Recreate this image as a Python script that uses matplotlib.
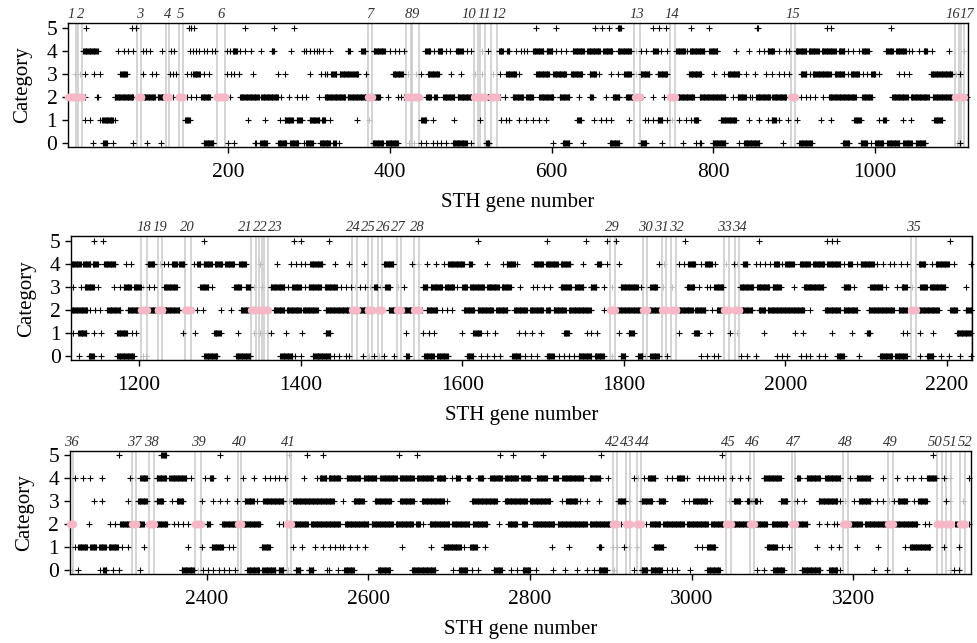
import numpy as np
import matplotlib
matplotlib.use("Agg")
import matplotlib.pyplot as plt
import matplotlib.transforms as mtransforms

plt.rcParams['font.family'] = ['Liberation Serif', 'DejaVu Serif']

# ---------------- data: gene numbers per category ("a-b" = run of consecutive genes) ----------------
CAT5 = ("25 82 86 152 155 158 221 257 282 581 606 654 662 671 682-686 725 733 741 772 795 854-855 941 945 1019 "
        "1145 1156 1280 1392 1401 1435 1619 1705 1753 1779 1790 1876 1967 2051 2057 2064 2204 "
        "2291 2344-2350 2416 2502 2524 2544 2638 2660 2763 2779 2816 2888 3037 3298")

CAT4 = ("21-39 64 71 77 83 95 99 104 119 130 133 153 157 161 164 170 174 180 184 199 203 206-211 215 221 229 241 254-257 "
        "278 294 297 301 307 310 313 318 326 348-351 365-370 380-394 400 406 412 418 444-450 455 460-465 470 474 482-490 "
        "495 501 514 521 535-540 545-548 556 562 566 570 577-590 594-601 606 612 618 626-640 644-660 664-675 682-698 704 "
        "710 717 725-731 735 743 754-765 768 771-789 795-805 828 844 857 862 867-875 881 890 894 902-915 918-930 934-951 "
        "955-962 967 972 980 984-992 1013-1022 1026-1038 1042 1046 1054 1060-1064 1070 1091 1110 "
        "1117-1128 1131-1140 1143-1149 1157-1171 1184 1190 1210-1219 1226 1231 1236 1241-1247 1250-1256 1268 1272-1276 "
        "1280-1290 1294-1303 1307-1318 1324-1332 1350 1371 1388 1394 1400 1406 1412-1427 1443 1460 1478 1503-1515 1538 "
        "1545 1557 1567 1577 1583-1602 1608-1612 1631 1650 1655-1665 1668 1689-1700 1704-1718 1722-1734 1750 1767-1772 "
        "1779 1794 1843 1850 1868 1874 1880-1888 1895 1901-1909 1913 1927 1936 1940 1948-1953 1963 1969 1975 1981 "
        "1986-1992 1996 2000-2010 2018-2030 2034-2048 2052-2068 2072 2078-2082 2088 2093-2109 2113 2121 2129 2134 2143 "
        "2150 2165-2173 2181 2186-2202 2208 2229 "
        "2237 2247 2256 2270 2305 2311 2318-2326 2338-2350 2354-2375 2381 2398 2404-2408 2425 2445 2458 2472 2478 2484 "
        "2490 2497 2520 2536 2540-2548 2551-2565 2573-2590 2594-2610 2615-2635 2639-2656 2660-2680 2685-2695 2703 "
        "2708-2713 2722-2726 2736-2742 2751-2765 2769-2785 2789-2800 2808-2821 2829-2835 2840-2866 2874-2887 2897 2928 "
        "2934 2941 2946-2955 2969 2975 2982-2990 2994 3009 3015 3021 3027 3033 3039 3050 3060 3070 3089-3110 3130-3134 "
        "3142-3159 3165-3184 3196 3204-3221 3237 3254 3266 3274 3283 3291-3303 3312 3320 3343")

CAT3 = ("11 17 23 34 42 67-75 95 106 111 128 132 136 149 154 157-165 171 177 199 204 208 214 231 262 270 301 315 320 322 "
        "328-334 338-353 355-361 371 404-416 423 433 439 447-461 476 488 505 514 528 536 544-556 560 581-597 602-618 "
        "624-638 647-655 659 674 682 690-698 704 710-721 731-743 770-785 801 813 818-832 840 852 865 873 881 887 894 "
        "908-915 919 923-945 950-962 966 970-980 985 990 995-1000 1005 1030 1036 1042 1069-1095 1100 1105 "
        "1118 1128 1133-1144 1149 1169 1176 1181-1190 1194-1202 1205 1212 1219 1231-1247 1276-1286 1291 1318-1326 "
        "1332-1338 1343 1352 1363-1380 1385 1390-1400 1405 1410-1425 1430-1445 1450 1456 1462 1467 1474 1480 1486 "
        "1491-1495 1498 1505-1511 1521 1528 1551-1557 1561-1575 1579-1590 1594 1600-1606 1610-1627 1631-1645 1649-1660 "
        "1672 1688 1693 1701 1709 1722-1735 1739-1750 1759-1766 1775 1785 1796-1817 1821 1827 1833-1841 1849 1860 "
        "1878-1887 1893 1903 1907 1912-1923 1944-1960 1965-1980 1984-1994 2010 2023-2047 2072-2080 2085 2105-2120 2124 "
        "2138 2144-2150 2157 2167-2175 2179-2198 2223 "
        "2260 2270 2303 2315-2326 2338-2346 2357 2363-2371 2394 2408 2416 2425 2437 2447-2458 2462 2470-2495 2502 "
        "2507-2557 2569 2582-2594 2608-2628 2639-2656 2666-2693 2697 2728-2759 2769-2796 2800-2825 2839 2845-2858 2862 "
        "2870 2885 2909-2918 2922 2936-2951 2959-2967 2990 2996 3002-3019 3023 3046 3052-3060 3068-3081 3085 3110-3118 "
        "3126 3130 3139 3157-3180 3184 3189 3201 3207-3221 3229 3237 3244 3250 3255-3266 3275 3280-3291 3314 3320 3336")

CAT2 = ("2-12 15-20 23 38 40 60-83 89-93 95-110 113-122 123-127 132 139-144 149 155 161 167-178 186-197 202 215-238 "
        "241-262 266 276 285 291 297 313 320-345 348-371 373-378 381-388 398 410 414 418 421-436 445-451 455-458 "
        "466-480 484-501 504-509 510 512-518 520-523 525-532 536 542 552-565 569-577 585-602 610-622 634 647-651 667 "
        "676-684 692-700 703-709 712 725 739 746-752 756-776 783-815 824 830-840 845 848 853-870 873-890 896-901 902 "
        "908 914 920 926 935 943-976 984-996 1021-1040 1044-1066 1071-1095 1099-1110 1113 "
        "1117-1136 1140 1146 1152 1161-1177 1186-1202 1203-1210 1211-1221 1223-1229 1231-1250 1257-1264 1266 1272 1279 "
        "1301 1314 1326-1338 1339-1345 1348-1352 1354-1360 1367-1380 1383-1400 1403-1421 1431-1460 1464-1470 1472-1482 "
        "1483-1489 1491 1496-1501 1509-1517 1519-1524 1526-1540 1541-1547 1550 1556-1569 1575 1581 1588 1602-1615 "
        "1619-1638 1642-1656 1664-1680 1684-1700 1704-1709 1713-1728 1732-1759 1775 1783-1789 1792-1821 1824-1829 "
        "1831-1843 1847-1852 1858-1865 1868-1885 1888-1901 1909 1915-1923 1924-1930 1937-1943 1944-1959 1967-1975 "
        "1978-2023 2031 2049-2068 2072-2089 2103-2134 2140-2150 2155-2161 2165-2190 2204-2212 2223-2230 "
        "2231-2235 2254 2281 2287 2293-2307 2308-2313 2316-2322 2329-2335 2338-2351 2359 2365 2371 2377 2386-2393 "
        "2400-2404 2419-2437 2439-2443 2445-2466 2489 2495 2499-2504 2507-2525 2529-2565 2571-2600 2604-2630 2634-2655 "
        "2659-2664 2668 2676-2700 2704-2725 2729-2747 2761 2773-2784 2790-2796 2804-2830 2834-2870 2874-2899 2902-2907 "
        "2912 2918 2919-2924 2932-2937 2943 2948 2950-2961 2965-2990 2994-3020 3024-3039 3043-3048 3050-3070 3072-3077 "
        "3079-3093 3099-3118 3124-3128 3132-3143 3157 3167 3176 3180 3187-3193 3194-3210 3214-3242 3243-3249 3250-3279 "
        "3288 3293 3303-3309 3313 3315-3321 3326-3330 3332-3338 3343")

CAT1 = ("23 30 42 45-58 61 147-153 225 246 264 270-280 285-291 301-313 316-320 326 359 375 439-445 453 480 511 538 544 "
        "548 560 568 577 585 593 632-637 653 661 667 674 696 715 719 725 731-737 743 749 758 766 772 776-781 809-828 "
        "844 857 867 872-877 881 892 904 933 945 974-982 1005 1010-1013 1034 1044 1073-1083 "
        "1118 1125-1135 1144 1153 1173-1185 1192 1196 1254 1270 1293-1301 1322 1342 1350 1358 1364 1382 1402 1431-1437 "
        "1530 1551 1559 1565 1600 1614-1623 1631 1641 1670 1678 1686 1697 1726-1732 1754 1760 1767 1794 1806-1812 1868 "
        "1887-1893 1907 1932 1940 1973 2012 2022 2058 2082 2101-2105 2146 2150 2167 2183 2212-2229 "
        "2233 2237 2241-2252 2256-2263 2267-2275 2279-2290 2295 2303 2322 2377 2394 2406-2420 2428 2433 2468-2478 2507 "
        "2518 2534 2544 2552 2559 2565 2569 2577 2586 2596 2641 2678 2693-2714 2718 2726-2734 2744 2827 2848 2885-2888 "
        "2903 2907 2916 2922 2932 2953-2965 3007 3013 3019-3029 3093-3105 3112 3120 3155 3172 3182 3205 3231 3264 "
        "3270-3295 3312 3330")

CAT0 = ("33 46-50 58 83 100 117 170-182 200 208 233 235 240-248 262-272 277-287 294 297-305 314-326 330-333 337 "
        "379-392 396-410 424 430 439 445 453 459 464 469 478-495 501 519-523 602 614-622 639 672-684 709-717 737 762 "
        "779 783-785 799-815 832 838-857 886 906-922 960-968 982-990 995 1000-1010 1015-1030 1035-1045 1050-1062 1101 "
        "1105 "
        "1126 1138-1144 1153 1173-1194 1205 1209 1281-1297 1320-1338 1375-1390 1393 1400 1415-1437 1441 1447 1456 1460 "
        "1477 1485 1491 1497 1503 1516 1530-1534 1553-1565 1569-1582 1606-1614 1623 1631 1639 1647 1662-1672 1678 1685 "
        "1693 1705-1713 1720 1726 1732 1738 1744-1760 1764-1775 1786 1796-1802 1817-1823 1826 1833-1843 1853 1895 1903 "
        "1911 1917 1945 1953 1963 1990 1996 2002 2019 2025 2031 2041 2049 2064-2072 2091 2117-2132 2136-2150 2167 "
        "2175-2183 2192 2202 2216 2229 "
        "2233 2241 2268 2272-2276 2284 2291 2318 2369-2384 2389 2396 2402 2408 2415 2421 2428 2435 2450-2465 2469-2485 "
        "2489-2495 2501 2510-2516 2526-2532 2549 2551 2563 2570-2582 2612-2627 2654-2683 2705 2712-2722 2728 2735 "
        "2755-2765 2777 2784 2791-2800 2807 2829 2843 2858 2870 2879 2885-2895 2904 2928 2936-2945 2949-2963 2970 2976 "
        "2982 2998 3019-3035 3081 3089 3101-3114 3136-3159 3170-3180 3184 3225 3241 3266 3320 3325 3330")

CATEGORIES = [0, 1, 2, 3, 4, 5]
CATEGORY_DATA = [CAT0, CAT1, CAT2, CAT3, CAT4, CAT5]

# highlighted regions (start gene, end gene) with their labels
BOX_START = [1, 15, 88, 123, 139, 186, 373, 420, 428, 504, 512, 525, 702, 746, 896, 1099, 1106,
             1203, 1223, 1257, 1339, 1348, 1355, 1464, 1483, 1496, 1519, 1541, 1783, 1824, 1847, 1858,
             1924, 1937, 2155,
             2231, 2308, 2329, 2386, 2439, 2499, 2902, 2919, 2932, 3043, 3072, 3124, 3187, 3243, 3303,
             3315, 3332]
BOX_END = [12, 20, 93, 127, 144, 197, 378, 426, 436, 509, 518, 532, 709, 752, 901, 1104, 1110,
           1210, 1229, 1264, 1345, 1352, 1360, 1470, 1489, 1501, 1524, 1547, 1789, 1829, 1852, 1865,
           1930, 1943, 2161,
           2235, 2313, 2335, 2393, 2443, 2504, 2907, 2924, 2937, 3048, 3077, 3128, 3193, 3249, 3309,
           3321, 3338]
BOX_LABELS = list(range(1, 53))

PANEL_RANGES = [(2, 1115), (1116, 2230.5), (2230.5, 3345.5)]
X_TICKS = [200, 400, 600, 800, 1000, 1200, 1400, 1600, 1800, 2000, 2200,
           2400, 2600, 2800, 3000, 3200]


def parse(s):
    out = []
    for tok in s.split():
        if '-' in tok:
            a, b = tok.split('-')
            out.extend(range(int(a), int(b) + 1))
        else:
            out.append(int(tok))
    return np.array(sorted(set(out)), dtype=float)


def in_box(g):
    m = np.zeros(len(g), dtype=bool)
    for s, e in zip(BOX_START, BOX_END):
        m |= (g >= s) & (g <= e)
    return m


fig = plt.figure(figsize=(9.77, 6.43), dpi=100)
positions = [
    [0.0693, 0.7719, 0.9217, 0.1919],
    [0.0727, 0.4397, 0.9219, 0.1928],
    [0.0713, 0.1078, 0.9226, 0.1913],
]

PINK = '#f6b8c6'
GREY_PT = '#bdbdbd'
BOX_LINE = '#c9c9c9'

for pi, pos in enumerate(positions):
    ax = fig.add_axes(pos)
    lo, hi = PANEL_RANGES[pi]
    # box lines
    for s, e in zip(BOX_START, BOX_END):
        for xv in (s, e):
            if lo - 1 <= xv <= hi + 1:
                ax.axvline(xv, color=BOX_LINE, lw=1.1, zorder=1)
    # points
    for cat, data in zip(CATEGORIES, CATEGORY_DATA):
        g = parse(data)
        g = g[(g >= lo - 0.5) & (g < hi)]
        m = in_box(g)
        y = np.full(len(g), cat)
        ax.plot(g[~m], y[~m], linestyle='none', marker='+', color='black',
                ms=3.9, mew=0.8, zorder=3, clip_on=False)
        if cat == 2:
            ax.plot(g[m], y[m], linestyle='none', marker='o', color=PINK,
                    mec=PINK, ms=4.4, zorder=4, clip_on=False)
        else:
            ax.plot(g[m], y[m], linestyle='none', marker='+', color=GREY_PT,
                    ms=3.9, mew=0.7, zorder=2, clip_on=False)

    ax.set_xlim(lo, hi)
    ax.set_ylim(-0.17, 5.2)
    ax.set_yticks(CATEGORIES)
    ax.set_xticks([t for t in X_TICKS if lo <= t <= hi])
    ax.tick_params(direction='out', length=4.5, width=1.0, labelsize=15.5, colors='black')
    ax.tick_params(axis='x', pad=7)
    ax.tick_params(axis='y', pad=3)
    for sp in ax.spines.values():
        sp.set_linewidth(1.0)
        sp.set_color('black')
    ax.set_xlabel('STH gene number', fontsize=15, labelpad=8)
    ax.set_ylabel('Category', fontsize=15, labelpad=10)

    # region labels above the axes, nudged apart when they overlap
    idx = [i for i in range(len(BOX_START))
           if lo - 5 <= (BOX_START[i] + BOX_END[i]) / 2 < hi]
    centers = [(BOX_START[i] + BOX_END[i]) / 2 for i in idx]
    digit_w = 9.2
    widths = [len(str(BOX_LABELS[i])) * digit_w for i in idx]
    xs = list(centers)
    for _ in range(500):
        moved = False
        for k in range(len(xs) - 1):
            need = (widths[k] + widths[k + 1]) / 2
            gap = xs[k + 1] - xs[k]
            if gap < need - 1e-6:
                d = (need - gap) / 2
                xs[k] -= d
                xs[k + 1] += d
                moved = True
        if not moved:
            break
    trans = mtransforms.blended_transform_factory(ax.transData, ax.transAxes)
    trans = mtransforms.offset_copy(trans, fig=fig, y=1.5, units='points')
    for k, i in enumerate(idx):
        ax.text(xs[k], 1.0, str(BOX_LABELS[i]), transform=trans, ha='center', va='bottom',
                fontsize=10.5, fontstyle='italic', color='#333333', clip_on=False)

fig.savefig('out.png', dpi=100)
